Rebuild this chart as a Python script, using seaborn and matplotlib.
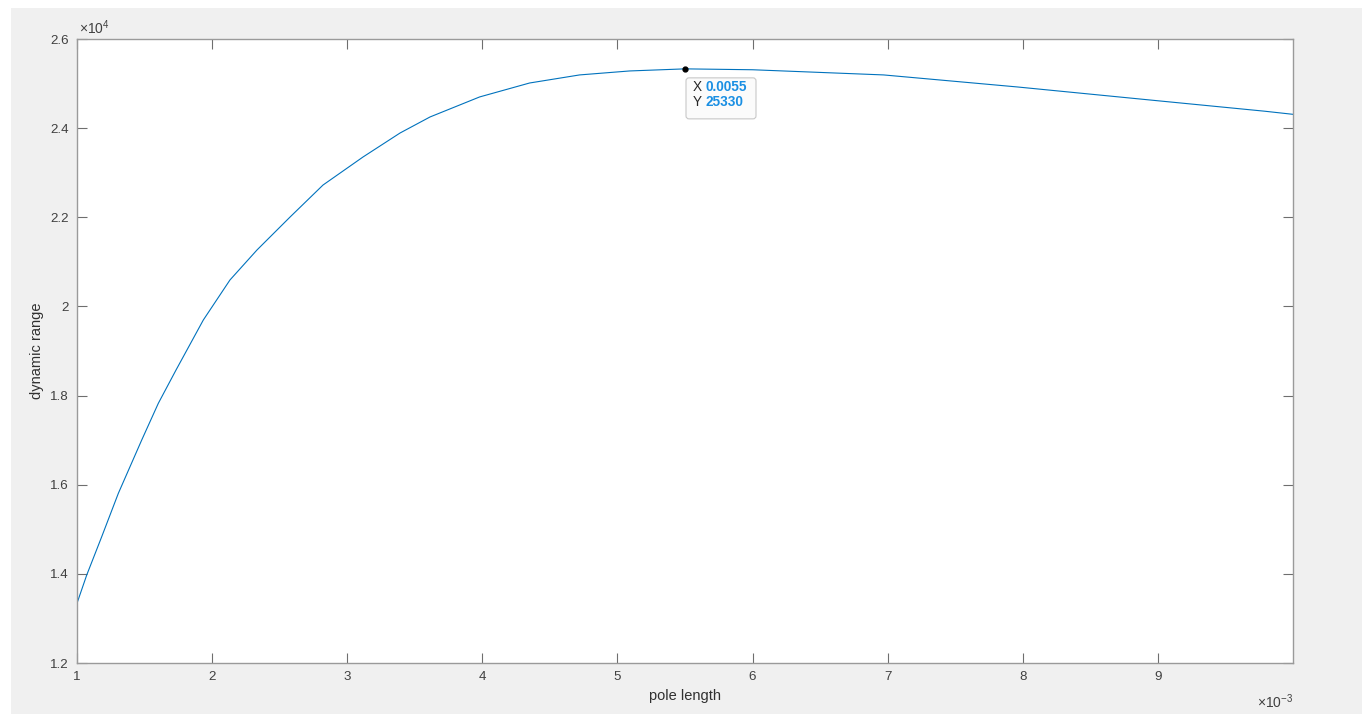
"""
Dynamic range vs pole length (MATLAB-style figure with a data tip).
"""

import matplotlib
matplotlib.use('Agg')
import matplotlib.pyplot as plt
from matplotlib.patches import Rectangle, FancyBboxPatch
from matplotlib.ticker import FuncFormatter
from matplotlib.transforms import Affine2D, ScaledTranslation
import seaborn as sns

# data
pole_length = [0.001000, 0.001072, 0.001183, 0.001306, 0.001479, 0.001602, 0.001733,
               0.001935, 0.002132, 0.002332, 0.002577, 0.002821, 0.003117, 0.003391,
               0.003613, 0.003980, 0.004350, 0.004720, 0.005090, 0.005500, 0.006000,
               0.006970, 0.007960, 0.008940, 0.009790, 0.010000]
dynamic_range = [13340, 13974, 14834, 15807, 17003, 17827, 18574,
                 19696, 20593, 21266, 22006, 22724, 23353, 23891,
                 24251, 24700, 25013, 25194, 25283, 25330, 25310,
                 25194, 24924, 24632, 24380, 24310]

tip_x = 0.0055
tip_y = 25330
tip_labels = ['X', 'Y']
tip_values = ['0.0055', '25330']

x_ticks = [0.001, 0.002, 0.003, 0.004, 0.005, 0.006, 0.007, 0.008, 0.009]
y_ticks = [12000, 14000, 16000, 18000, 20000, 22000, 24000, 26000]

sns.set_theme(style='white')
plt.rcParams['font.family'] = ['Liberation Sans', 'DejaVu Sans']
plt.rcParams['mathtext.default'] = 'regular'

W, H = 1362, 714
fig = plt.figure(figsize=(W / 100, H / 100), dpi=100, facecolor='white')
# grey MATLAB figure background (small white border at top/left)
fig.patches.append(Rectangle((11 / W, 0), 1, (H - 8) / H, transform=fig.transFigure,
                             facecolor='#f0f0f0', edgecolor='none', zorder=-10))

ax = fig.add_axes([77 / W, (H - 663) / H, (1293 - 77) / W, (663 - 39) / H])
ax.set_facecolor('white')

sns.lineplot(x=pole_length, y=dynamic_range, ax=ax, color='#0072BD', linewidth=0.8)

ax.set_xlim(0.001, 0.01)
ax.set_ylim(12000, 26000)
ax.set_xticks(x_ticks)
ax.set_yticks(y_ticks)
ax.xaxis.set_major_formatter(FuncFormatter(lambda v, p: f'{v * 1e3:g}'))
ax.yaxis.set_major_formatter(FuncFormatter(lambda v, p: f'{v / 1e4:g}'))

text_grey = '#404040'
for sp in ax.spines.values():
    sp.set_visible(True)
    sp.set_color('#9a9a9a')
    sp.set_linewidth(1.0)
ax.tick_params(axis='both', direction='in', length=7.5, width=0.8, color='#6e6e6e',
               bottom=True, left=True, top=True, right=True,
               labelsize=9.6, labelcolor=text_grey, pad=6)

# exponent labels, MATLAB style
ax.text(0.0016, 1.004, r'$\times10^{4}$', transform=ax.transAxes, ha='left', va='bottom',
        fontsize=10, color=text_grey)
ax.text(1.0, -0.0625, r'$\times10^{-3}$', transform=ax.transAxes, ha='right', va='center',
        fontsize=10, color=text_grey)

ax.set_xlabel('pole length', fontsize=10.5, color='#303030')
ax.set_ylabel('dynamic range', fontsize=10.5, color='#303030')
ax.xaxis.set_label_coords(0.5, -0.041)
ax.yaxis.set_label_coords(-0.027, 0.5)

# data tip: marker, box and text placed in pixel offsets from the point
ax.plot([tip_x], [tip_y], 'o', color='black', markersize=3.5, zorder=5)
tip_trans = Affine2D() + ScaledTranslation(tip_x, tip_y, ax.transData)
ax.add_patch(FancyBboxPatch((1, -50), 70, 41, boxstyle='round,pad=0,rounding_size=3',
                            transform=tip_trans, facecolor='#fbfbfb', edgecolor='#c8c8c8',
                            linewidth=0.8, zorder=4, clip_on=False))
for i, (lab, val) in enumerate(zip(tip_labels, tip_values)):
    dy = -18 - 15 * i
    ax.annotate(lab, xy=(tip_x, tip_y), xytext=(8, dy), textcoords='offset pixels',
                ha='left', va='center', fontsize=9.8, color='#262626', zorder=6)
    ax.annotate(val, xy=(tip_x, tip_y), xytext=(21, dy), textcoords='offset pixels',
                ha='left', va='center', fontsize=9.8, fontweight='bold', color='#1a8fe3',
                zorder=6)

fig.savefig('out.png', dpi=100, facecolor=fig.get_facecolor())
